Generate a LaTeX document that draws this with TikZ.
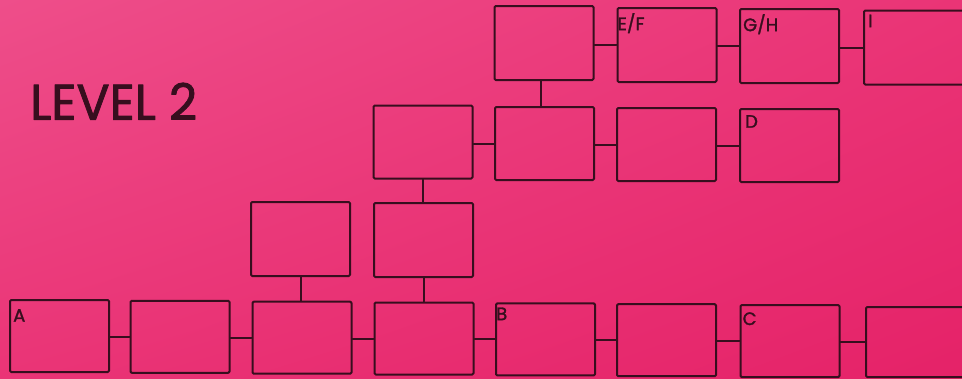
\documentclass[tikz,border=0pt]{standalone}
\usepackage{fontspec}
\usetikzlibrary{shadings}
\setmainfont{Poppins}
\newfontfamily\inkfont[FakeBold=1.6]{Poppins}
\definecolor{inkc}{RGB}{55,14,30}
\definecolor{pinkul}{RGB}{238,78,138}
\definecolor{pinkmid}{RGB}{234,52,118}
\definecolor{pinklr}{RGB}{229,34,104}
\begin{document}
\begin{tikzpicture}[x=1pt,y=-1pt,line cap=round,line join=round,
  cell/.style={draw=inkc,line width=2pt,rounded corners=1.2pt,
    minimum width=99pt,minimum height=74pt,inner sep=0pt},
  lastcell/.style={cell,minimum width=112pt,anchor=west},
  link/.style={draw=inkc,line width=2pt},
  tag/.style={anchor=north west,inner sep=0pt,text=inkc,
    font=\inkfont\fontsize{18}{18}\selectfont}]
  % paper background, clipped to the page
  \clip (0,0) rectangle (962,378);
  \shade[upper left=pinkul,upper right=pinkmid,lower left=pinkmid,
    lower right=pinklr] (0,0) rectangle (962,378);
  \node[anchor=south west,inner sep=0pt,text=inkc,font=\inkfont] (title)
    at (30,120) {\resizebox{167pt}{37pt}{LEVEL 2}};
  % bottom row
  \node[cell,minimum height=72pt] (b0) at (59.5,336) {};
  \node[cell,minimum height=72pt] (b1) at (180,336.8) {};
  \node[cell,minimum height=72pt] (b2) at (302,337.7) {};
  \node[cell,minimum height=72pt] (b3) at (424,338.5) {};
  \node[cell,minimum height=72pt] (b4) at (545.5,339.4) {};
  \node[cell,minimum height=72pt] (b5) at (666.5,340.2) {};
  \node[cell,minimum height=72pt] (b6) at (790,341.1) {};
  \node[lastcell,minimum height=70pt] (b7) at (865,342) {};
  % second row
  \node[cell] (r2) at (300.5,239) {};
  \node[cell] (r3) at (423.5,240) {};
  % third row
  \node[cell,minimum height=73pt] (m3) at (423,142) {};
  \node[cell,minimum height=73pt] (m4) at (544.5,143.5) {};
  \node[cell,minimum height=73pt] (m5) at (666.5,144.5) {};
  \node[cell,minimum height=73pt] (m6) at (789.5,145.5) {};
  % top row
  \node[cell] (t4) at (544,43) {};
  \node[cell] (t5) at (667,45) {};
  \node[cell] (t6) at (789.5,46) {};
  \node[lastcell] (t7) at (863,47.5) {};
  % letters in the corners
  \node[tag] (tA) at ([shift={(4,10)}]b0.north west) {A};
  \node[tag] (tB) at ([shift={(1,5)}]b4.north west) {B};
  \node[tag] (tC) at ([shift={(3,8)}]b6.north west) {C};
  \node[tag] (tD) at ([shift={(6,7)}]m6.north west) {D};
  \node[tag] (tEF) at ([shift={(1,6)}]t5.north west) {E/F};
  \node[tag] (tGH) at ([shift={(4,6)}]t6.north west) {G/H};
  \node[tag] (tI) at ([shift={(5,5)}]t7.north west) {I};
  % horizontal links
  \foreach \p/\q in {b0/b1,b1/b2,b2/b3,b3/b4,b4/b5,b5/b6,b6/b7,
    m3/m4,m4/m5,m5/m6,t4/t5,t5/t6,t6/t7}
    \draw[link] (\q.west -| \p.east) -- (\q.west);
  % vertical links
  \draw[link] ([xshift=-3.5pt]t4.south) -- ([xshift=-3.5pt]t4.south |- m4.north);
  \draw[link] (m3.south) -- (m3.south |- r3.north);
  \draw[link] (r2.south) -- (r2.south |- b2.north);
  \draw[link] (r3.south) -- (r3.south |- b3.north);
\end{tikzpicture}
\end{document}
